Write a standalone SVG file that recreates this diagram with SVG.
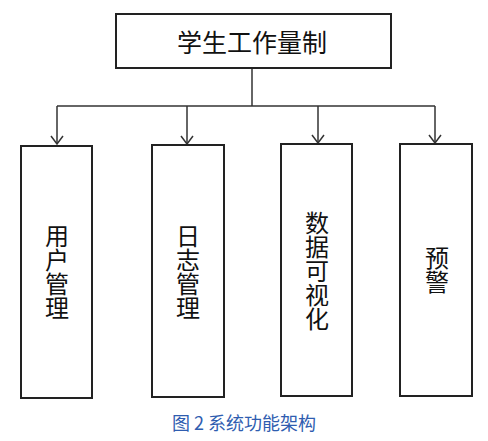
<svg xmlns="http://www.w3.org/2000/svg" width="488" height="441" viewBox="0 0 488 441">
<defs>
<marker id="arr" markerWidth="12" markerHeight="14" refX="10" refY="7" orient="auto" markerUnits="userSpaceOnUse" viewBox="0 0 12 14">
<path d="M2,1 L10,7 L2,13" fill="none" stroke="#333" stroke-width="1.5"/>
</marker>
</defs>
<style>
.box{fill:#fff;stroke:#222;stroke-width:2}
.lbl{font-family:"Noto Sans CJK SC","Noto Sans CJK JP",sans-serif;font-size:24px;fill:#111;text-anchor:middle}
.vt{writing-mode:vertical-rl;text-orientation:upright}
.con{fill:none;stroke:#333;stroke-width:1.5}
.cap{font-family:"Noto Sans CJK SC",sans-serif;font-size:18px;fill:#2F5DB0;text-anchor:middle;dominant-baseline:central}
</style>
<rect width="488" height="441" fill="#fff"/>
<g id="connectors">
<path class="con" d="M252,68 V106"/>
<path class="con" d="M57,106 H435"/>
<path class="con" d="M57,106 V144" marker-end="url(#arr)"/>
<path class="con" d="M187,106 V144" marker-end="url(#arr)"/>
<path class="con" d="M318,106 V143" marker-end="url(#arr)"/>
<path class="con" d="M435,106 V143" marker-end="url(#arr)"/>
</g>
<g id="root">
<rect class="box" x="116" y="14" width="275" height="54"/>
<text class="lbl" x="252" y="41" style="font-size:25px" dominant-baseline="central">学生工作量制</text>
</g>
<g id="user">
<rect class="box" x="21" y="146" width="71" height="252"/>
<text class="lbl vt" x="57" y="272">用户管理</text>
</g>
<g id="log">
<rect class="box" x="152" y="145" width="72" height="252"/>
<text class="lbl vt" x="188" y="272">日志管理</text>
</g>
<g id="vis">
<rect class="box" x="281" y="144" width="71" height="252"/>
<text class="lbl vt" x="317" y="271">数据可视化</text>
</g>
<g id="warn">
<rect class="box" x="400" y="144" width="72" height="252"/>
<text class="lbl vt" x="437" y="270">预警</text>
</g>
<text class="cap" x="244" y="422">图 2 系统功能架构</text>
</svg>
